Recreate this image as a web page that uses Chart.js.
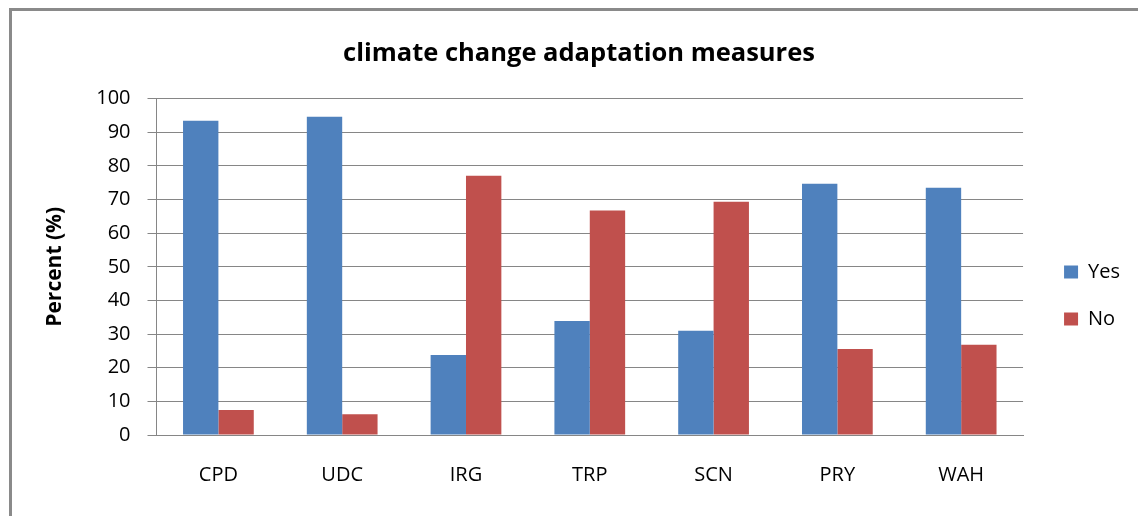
<!DOCTYPE html>
<html>
<head>
<meta charset="utf-8">
<script src="https://cdn.jsdelivr.net/npm/chart.js@4.4.1/dist/chart.umd.min.js"></script>
<style>
  html, body { margin: 0; padding: 0; background: #ffffff; }
  #frame { position: absolute; left: 9px; top: 8px; width: 1200px; height: 600px;
           border-left: 3px solid #8a8a8a; border-top: 3px solid #8a8a8a; }
  #wrap { position: absolute; left: 0; top: 0; width: 1138px; height: 516px; }
</style>
</head>
<body>
<div id="frame"></div>
<div id="wrap"><canvas id="c"></canvas></div>
<script>
const categories = ['CPD', 'UDC', 'IRG', 'TRP', 'SCN', 'PRY', 'WAH'];
const yesValues = [93.4, 94.6, 23.8, 33.9, 31.0, 74.7, 73.5];
const noValues = [7.4, 6.2, 77.1, 66.7, 69.3, 25.6, 26.8];
const yTicks = [0, 10, 20, 30, 40, 50, 60, 70, 80, 90, 100];

const gridGray = '#868686';
const FONT = "'Open Sans', 'Liberation Sans', sans-serif";

new Chart(document.getElementById('c'), {
  type: 'bar',
  data: {
    labels: categories,
    datasets: [
      { label: 'Yes', data: yesValues, backgroundColor: '#4F81BD', borderWidth: 0,
        categoryPercentage: 2 / 3.5, barPercentage: 1.0, yAxisID: 'y' },
      { label: 'No', data: noValues, backgroundColor: '#C0504D', borderWidth: 0,
        categoryPercentage: 2 / 3.5, barPercentage: 1.0, yAxisID: 'y' }
    ]
  },
  options: {
    responsive: true,
    maintainAspectRatio: false,
    animation: false,
    devicePixelRatio: 1,
    layout: { padding: { left: 28, right: 8, top: 0, bottom: 0 } },
    plugins: {
      title: {
        display: true,
        text: 'climate change adaptation measures',
        color: '#000',
        font: { family: FONT, size: 25.5, weight: 'bold' },
        padding: { top: 38, bottom: 30 }
      },
      legend: {
        position: 'right',
        align: 'center',
        title: { display: true, text: ' ', font: { family: FONT, size: 10 }, padding: { top: 0, bottom: 63 } },
        labels: {
          color: '#000',
          font: { family: FONT, size: 20 },
          boxWidth: 14,
          boxHeight: 13,
          padding: 27
        }
      },
      tooltip: { enabled: false }
    },
    scales: {
      x: {
        grid: { display: true, drawOnChartArea: false, drawTicks: false },
        border: { display: true, color: gridGray, width: 1 },
        ticks: { color: '#000', font: { family: FONT, size: 20 }, padding: 28.5 }
      },
      y: {
        min: 0, max: 100,
        afterBuildTicks: (scale) => { scale.ticks = yTicks.map(v => ({ value: v })); },
        grid: { color: gridGray, lineWidth: 1, drawTicks: true, tickLength: 9, tickColor: gridGray },
        border: { display: true, color: gridGray, width: 1 },
        ticks: { color: '#000', font: { family: FONT, size: 20 }, padding: 17 },
        title: {
          display: true,
          text: 'Percent (%)',
          color: '#000',
          font: { family: FONT, size: 21, weight: 'bold' },
          padding: { top: 14, bottom: 12 }
        }
      },
      yR: {
        position: 'right',
        display: true,
        grid: { display: false },
        border: { display: false },
        ticks: { display: false },
        afterFit: (scale) => { scale.width = 14; }
      }
    }
  }
});
</script>
</body>
</html>
